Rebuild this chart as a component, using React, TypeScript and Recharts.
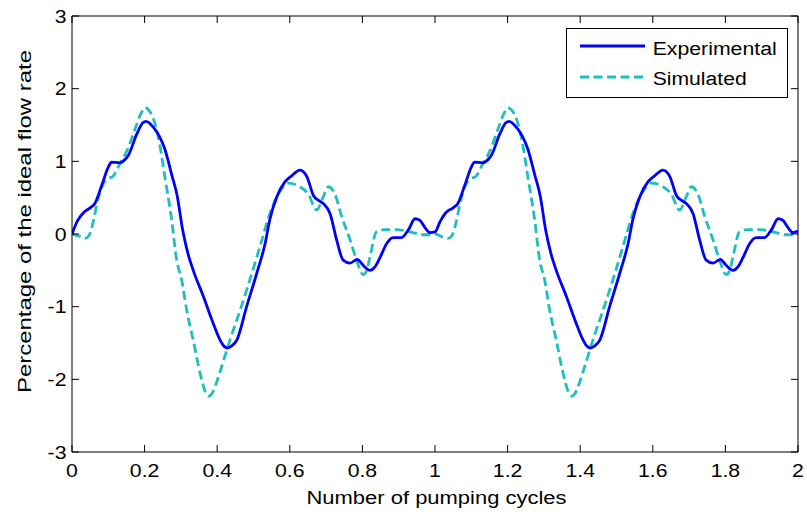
import React from "react";
import { LineChart, Line, XAxis, YAxis, Legend, Label } from "recharts";

const xTicks = [0, 0.2, 0.4, 0.6, 0.8, 1, 1.2, 1.4, 1.6, 1.8, 2];
const yTicks = [-3, -2, -1, 0, 1, 2, 3];

const expX = [
  0, 0.015, 0.031, 0.05, 0.063, 0.082, 0.1, 0.109, 0.132, 0.145, 0.155, 0.178, 0.195, 0.204, 0.224, 0.24, 0.255, 0.275, 0.29, 0.305, 0.32, 0.334, 0.362, 0.389, 0.408, 0.42, 0.428, 0.44, 0.454, 0.481, 0.509, 0.532, 0.545, 0.564, 0.587, 0.605, 0.628, 0.647, 0.665, 0.68, 0.692, 0.711, 0.729, 0.747, 0.766, 0.786, 0.802, 0.821, 0.835, 0.848, 0.867, 0.885, 0.908, 0.927, 0.945, 0.958, 0.972, 0.986,
  1, 1.015, 1.031, 1.05, 1.063, 1.082, 1.1, 1.109, 1.132, 1.145, 1.155, 1.178, 1.195, 1.204, 1.224, 1.24, 1.255, 1.275, 1.29, 1.305, 1.32, 1.334, 1.362, 1.389, 1.408, 1.42, 1.428, 1.44, 1.454, 1.481, 1.509, 1.532, 1.545, 1.564, 1.587, 1.605, 1.628, 1.647, 1.665, 1.68, 1.692, 1.711, 1.729, 1.747, 1.766, 1.786, 1.802, 1.821, 1.835, 1.848, 1.867, 1.885, 1.908, 1.927, 1.945, 1.958, 1.972, 1.986, 2,
];
const expY = [
  0, 0.18, 0.29, 0.36, 0.42, 0.67, 0.92, 0.99, 0.98, 1.02, 1.08, 1.37, 1.53, 1.55, 1.47, 1.35, 1.18, 0.81, 0.52, 0.05, -0.28, -0.5, -0.86, -1.23, -1.46, -1.55, -1.57, -1.54, -1.46, -1.0, -0.54, -0.13, 0.2, 0.51, 0.72, 0.8, 0.88, 0.79, 0.53, 0.46, 0.42, 0.28, -0.08, -0.36, -0.4, -0.35, -0.43, -0.5, -0.45, -0.33, -0.13, -0.05, -0.05, 0.06, 0.21, 0.19, 0.09, 0.02,
  0.03, 0.18, 0.3, 0.36, 0.42, 0.67, 0.92, 0.99, 0.98, 1.02, 1.08, 1.37, 1.53, 1.55, 1.47, 1.35, 1.18, 0.81, 0.52, 0.05, -0.28, -0.5, -0.86, -1.23, -1.46, -1.55, -1.57, -1.54, -1.46, -1.0, -0.54, -0.13, 0.2, 0.51, 0.72, 0.8, 0.88, 0.79, 0.53, 0.46, 0.42, 0.28, -0.08, -0.36, -0.4, -0.35, -0.43, -0.5, -0.45, -0.33, -0.13, -0.05, -0.05, 0.06, 0.21, 0.19, 0.09, 0.02, 0.04,
];

const simX = [
  0, 0.02, 0.036, 0.047, 0.054, 0.062, 0.068, 0.086, 0.1, 0.114, 0.132, 0.151, 0.174, 0.19, 0.201, 0.212, 0.224, 0.242, 0.256, 0.275, 0.288, 0.302, 0.316, 0.334, 0.353, 0.368, 0.376, 0.385, 0.394, 0.412, 0.435, 0.463, 0.49, 0.518, 0.545, 0.564, 0.58, 0.596, 0.628, 0.651, 0.674, 0.692, 0.706, 0.725, 0.743, 0.766, 0.784, 0.802, 0.812, 0.821, 0.839, 0.862, 0.894, 0.931, 0.968, 0.995,
  1, 1.02, 1.036, 1.047, 1.054, 1.062, 1.068, 1.086, 1.1, 1.114, 1.132, 1.151, 1.174, 1.19, 1.201, 1.212, 1.224, 1.242, 1.256, 1.275, 1.288, 1.302, 1.316, 1.334, 1.353, 1.368, 1.376, 1.385, 1.394, 1.412, 1.435, 1.463, 1.49, 1.518, 1.545, 1.564, 1.58, 1.596, 1.628, 1.651, 1.674, 1.692, 1.706, 1.725, 1.743, 1.766, 1.784, 1.802, 1.812, 1.821, 1.839, 1.862, 1.894, 1.931, 1.968, 1.995, 2,
];
const simY = [
  0, -0.03, -0.06, -0.02, 0.08, 0.25, 0.4, 0.69, 0.76, 0.8, 0.97, 1.14, 1.45, 1.66, 1.74, 1.7, 1.59, 1.22, 0.78, 0.18, -0.35, -0.63, -1.05, -1.46, -1.92, -2.18, -2.23, -2.2, -2.1, -1.83, -1.46, -1.05, -0.63, -0.17, 0.28, 0.51, 0.64, 0.7, 0.65, 0.55, 0.33, 0.51, 0.65, 0.54, 0.24, -0.08, -0.36, -0.56, -0.5, -0.31, 0.03, 0.06, 0.06, 0.03, -0.01, -0.01,
  0, -0.04, -0.06, -0.02, 0.08, 0.25, 0.4, 0.69, 0.76, 0.8, 0.97, 1.14, 1.45, 1.66, 1.74, 1.7, 1.59, 1.22, 0.78, 0.18, -0.35, -0.63, -1.05, -1.46, -1.92, -2.18, -2.23, -2.2, -2.1, -1.83, -1.46, -1.05, -0.63, -0.17, 0.28, 0.51, 0.64, 0.7, 0.65, 0.55, 0.33, 0.51, 0.65, 0.54, 0.24, -0.08, -0.36, -0.56, -0.5, -0.31, 0.03, 0.06, 0.06, 0.03, -0.01, -0.01, 0,
];

const expData = expX.map((x, i) => ({ x, y: expY[i] }));
const simData = simX.map((x, i) => ({ x, y: simY[i] }));

const FONT = "'Liberation Sans', Arial, Helvetica, sans-serif";
const BLUE = "#0000ff";
const CYAN = "#1fbfbf";
const TL = 7;

const BottomTick = (props: any) => {
  const { x, y, payload } = props;
  return (
    <g>
      <line x1={x} x2={x} y1={y} y2={y - TL} stroke="#000" strokeWidth={1} />
      <text
        transform={`translate(${x},${y + 24.5}) scale(1.18,1)`}
        textAnchor="middle"
        fontSize={18}
        fontFamily={FONT}
        fill="#000"
      >
        {String(payload.value)}
      </text>
    </g>
  );
};

const TopTick = (props: any) => {
  const { x, y } = props;
  return <line x1={x} x2={x} y1={y} y2={y + TL} stroke="#000" strokeWidth={1} />;
};

const LeftTick = (props: any) => {
  const { x, y, payload } = props;
  return (
    <g>
      <line x1={x} x2={x + TL} y1={y} y2={y} stroke="#000" strokeWidth={1} />
      <text
        transform={`translate(${x - 5.5},${y + 6.5}) scale(1.18,1)`}
        textAnchor="end"
        fontSize={18}
        fontFamily={FONT}
        fill="#000"
      >
        {String(payload.value)}
      </text>
    </g>
  );
};

const RightTick = (props: any) => {
  const { x, y } = props;
  return <line x1={x} x2={x - TL} y1={y} y2={y} stroke="#000" strokeWidth={1} />;
};

const LegendBox = () => (
  <svg width={222} height={70} style={{ display: "block" }}>
    <rect x={0.5} y={0.5} width={221} height={69} fill="#fff" stroke="#000" strokeWidth={1} />
    <line x1={14} x2={79} y1={18} y2={18} stroke={BLUE} strokeWidth={2.8} />
    <line x1={14} x2={79} y1={49} y2={49} stroke={CYAN} strokeWidth={2.8} strokeDasharray="9 4.5" />
    <text x={86.7} y={27} fontSize={18} fontFamily={FONT} fill="#000" textLength={124} lengthAdjust="spacingAndGlyphs">
      Experimental
    </text>
    <text x={86.7} y={57} fontSize={18} fontFamily={FONT} fill="#000" textLength={94} lengthAdjust="spacingAndGlyphs">
      Simulated
    </text>
  </svg>
);

export default function App() {
  return (
    <div style={{ position: "absolute", left: 0, top: 0, background: "#fff" }}>
      <LineChart width={807} height={515} margin={{ top: 15, right: 8, left: 12, bottom: 23 }}>
        <XAxis
          xAxisId="b"
          dataKey="x"
          type="number"
          domain={[0, 2]}
          ticks={xTicks}
          allowDataOverflow
          height={40}
          tickSize={0}
          tickMargin={0}
          tickLine={false}
          axisLine={{ stroke: "#000", strokeWidth: 1 }}
          tick={<BottomTick />}
          interval={0}
        >
          <Label
            content={() => (
              <text
                x={436.5}
                y={504}
                textAnchor="middle"
                fontSize={18}
                fontFamily={FONT}
                fill="#000"
                textLength={260}
                lengthAdjust="spacingAndGlyphs"
              >
                Number of pumping cycles
              </text>
            )}
          />
        </XAxis>
        <XAxis
          xAxisId="t"
          orientation="top"
          dataKey="x"
          type="number"
          domain={[0, 2]}
          ticks={xTicks}
          allowDataOverflow
          height={1}
          tickSize={0}
          tickMargin={0}
          tickLine={false}
          axisLine={{ stroke: "#000", strokeWidth: 1 }}
          tick={<TopTick />}
          interval={0}
        />
        <YAxis
          yAxisId="l"
          type="number"
          domain={[-3, 3]}
          ticks={yTicks}
          allowDataOverflow
          width={60}
          tickSize={0}
          tickMargin={0}
          tickLine={false}
          axisLine={{ stroke: "#000", strokeWidth: 1 }}
          tick={<LeftTick />}
          interval={0}
        >
          <Label
            content={() => (
              <text
                transform="translate(31,221.5) rotate(-90)"
                textAnchor="middle"
                fontSize={18}
                fontFamily={FONT}
                fill="#000"
                textLength={343}
                lengthAdjust="spacingAndGlyphs"
              >
                Percentage of the ideal flow rate
              </text>
            )}
          />
        </YAxis>
        <YAxis
          yAxisId="r"
          orientation="right"
          type="number"
          domain={[-3, 3]}
          ticks={yTicks}
          allowDataOverflow
          width={1}
          tickSize={0}
          tickMargin={0}
          tickLine={false}
          axisLine={{ stroke: "#000", strokeWidth: 1 }}
          tick={<RightTick />}
          interval={0}
        />
        <Line
          xAxisId="b"
          yAxisId="l"
          data={simData}
          dataKey="y"
          name="Simulated"
          type="monotone"
          stroke={CYAN}
          strokeWidth={2.8}
          strokeDasharray="9 4.5"
          dot={false}
          activeDot={false}
          isAnimationActive={false}
        />
        <Line
          xAxisId="b"
          yAxisId="l"
          data={expData}
          dataKey="y"
          name="Experimental"
          type="monotone"
          stroke={BLUE}
          strokeWidth={2.8}
          dot={false}
          activeDot={false}
          isAnimationActive={false}
        />
        <Legend
          layout="horizontal"
          verticalAlign="middle"
          align="center"
          content={() => <LegendBox />}
          wrapperStyle={{ position: "absolute", left: 566, top: 28, width: 222, height: 70 }}
        />
      </LineChart>
    </div>
  );
}
